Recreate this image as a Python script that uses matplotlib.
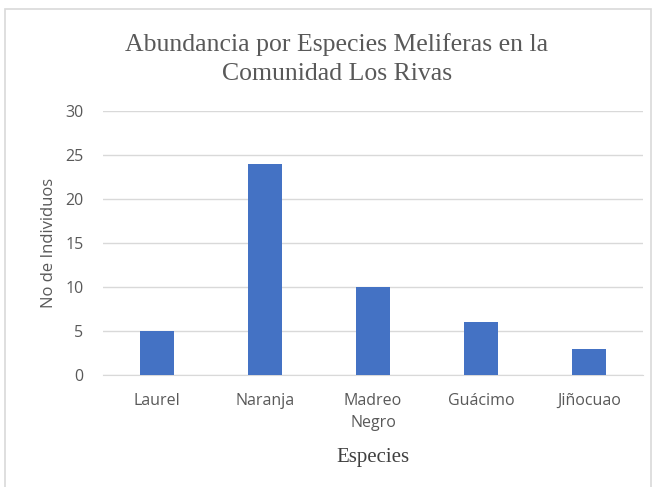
import matplotlib.pyplot as plt
from matplotlib.patches import Rectangle

especies = ['Laurel', 'Naranja', 'Madreo\nNegro', 'Guácimo', 'Jiñocuao']
individuos = [5, 24, 10, 6, 3]
yticks = [0, 5, 10, 15, 20, 25, 30]

fig = plt.figure(figsize=(6.57, 4.87), dpi=100)
fig.patches.append(Rectangle((5/657, -0.02), 646/657, 1 - 9/487 + 0.02,
                             transform=fig.transFigure, fill=False,
                             edgecolor='#d9d9d9', linewidth=1.2))

ax = fig.add_axes([103/657, 1 - 375/487, 540/657, 264/487])
ax.bar(range(len(especies)), individuos, width=0.31, color='#4472c4', zorder=3)
ax.set_xlim(-0.5, len(especies) - 0.5)
ax.set_ylim(0, 30)
ax.set_yticks(yticks)
ax.grid(axis='y', color='#d9d9d9', linewidth=1, zorder=0)
for s in ['top', 'right', 'left']:
    ax.spines[s].set_visible(False)
ax.spines['bottom'].set_color('#d9d9d9')
ax.tick_params(length=0, colors='#595959')
ax.tick_params(axis='y', pad=14)
ax.tick_params(axis='x', pad=13)
ax.set_xticks(range(len(especies)))
ax.set_xticklabels(especies, fontfamily='Open Sans', fontsize=11.5, linespacing=1.5)
for lbl in ax.get_yticklabels():
    lbl.set_fontfamily('Open Sans')
    lbl.set_fontsize(11.5)

ax.set_ylabel('No de Individuos', fontfamily='Open Sans', fontsize=12,
              color='#595959', labelpad=6)
ax.set_xlabel('Especies', fontfamily='Liberation Serif', fontsize=15,
              color='#404040', labelpad=12)
fig.text(337/657, 1 - 59/487, 'Abundancia por Especies Meliferas en la\nComunidad Los Rivas',
         ha='center', va='center', fontfamily='Liberation Serif', fontsize=18.5,
         color='#595959', linespacing=1.4)

plt.savefig('out.png', dpi=100)
